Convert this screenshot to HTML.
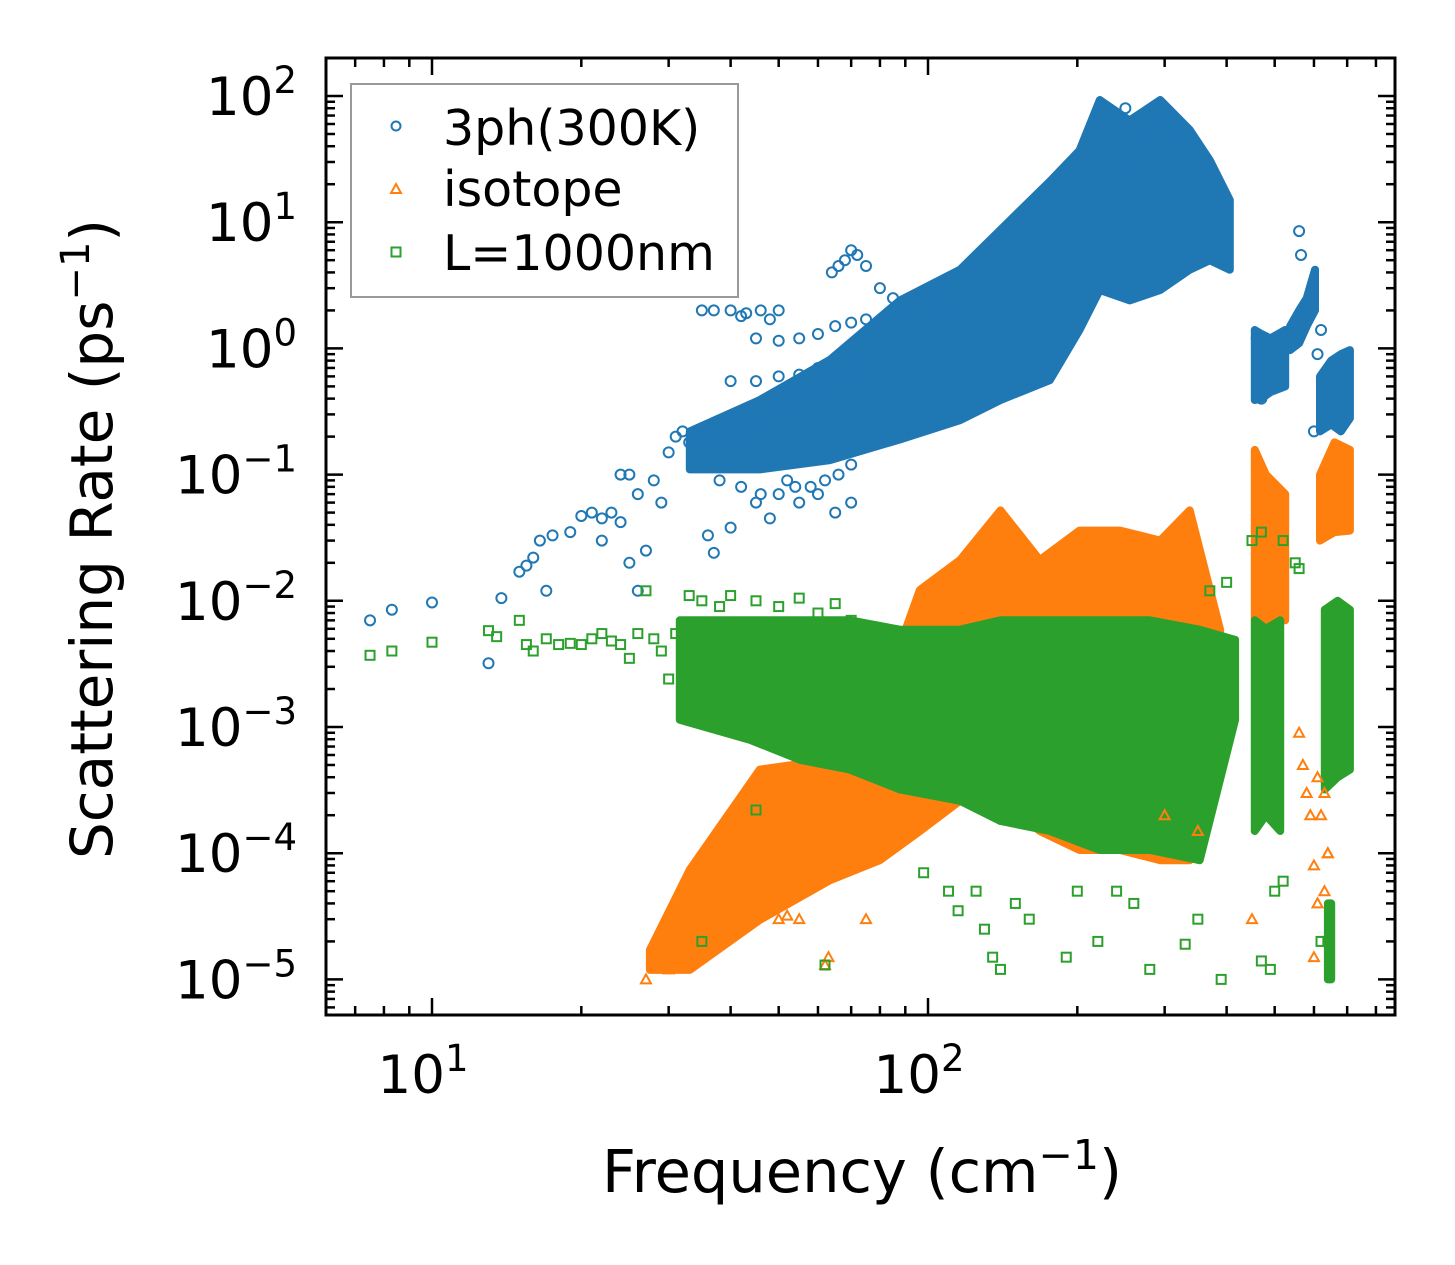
<!DOCTYPE html>
<html><head><meta charset="utf-8"><style>
html,body{margin:0;padding:0;background:#fff;}
svg{display:block;font-family:"DejaVu Sans","Liberation Sans",sans-serif;}
</style></head><body>
<svg id="chart" width="1455" height="1265" viewBox="0 0 1455 1265" xmlns="http://www.w3.org/2000/svg">
<rect width="1455" height="1265" fill="#fff"/>
<g id="clusters"></g>
<g id="points"></g>
<g id="axes"></g>
<text x="862" y="1192" font-size="59" text-anchor="middle">Frequency (cm<tspan dy="-23" font-size="41">−1</tspan><tspan dy="23">)</tspan></text>
<text transform="translate(112,539) rotate(-90)" font-size="58" text-anchor="middle">Scattering Rate (ps<tspan dy="-23" font-size="40">−1</tspan><tspan dy="23">)</tspan></text>
<g>
<rect x="351" y="84" width="387" height="213" fill="#fff" stroke="#999" stroke-width="2"/>
<circle cx="396" cy="126" r="4.5" fill="none" stroke="#1f77b4" stroke-width="2"/>
<text x="443" y="145" font-size="49">3ph(300K)</text>
<path d="M396,184 L401,193 L391,193 Z" fill="none" stroke="#ff7f0e" stroke-width="2"/>
<text x="443" y="206" font-size="49">isotope</text>
<rect x="391.5" y="247.5" width="9" height="9" fill="none" stroke="#2ca02c" stroke-width="2"/>
<text x="443" y="270" font-size="49">L=1000nm</text>
</g>
</svg>
<script>
// ---- data (frequency in cm^-1, rate in ps^-1) ----
const blueBandFreq=[33.1,45.8,63.4,87.8,116,140,176,202,222,255,294,337,370,406];
const blueBandLo=[0.11,0.11,0.13,0.19,0.27,0.39,0.56,1.4,2.9,2.4,2.9,4.2,5.0,4.2];
const blueBandHi=[0.22,0.39,0.81,2.4,4.2,8.7,21,37,93,64,93,54,31,15];
const blueBand2Freq=[456,470,490,525];
const blueBand2Lo=[0.39,0.4,0.45,0.5];
const blueBand2Hi=[1.4,1.3,1.2,1.4];
const blueBand3Freq=[537,560,580,603];
const blueBand3Lo=[0.97,1.1,1.5,2.0];
const blueBand3Hi=[1.5,2.0,2.5,4.2];
const blueBand4Freq=[617,650,680,709];
const blueBand4Lo=[0.22,0.25,0.22,0.28];
const blueBand4Hi=[0.6,0.8,0.9,0.97];
const orangeBandFreq=[27.5,33.1,45.8,63.4,80,96.3,116,140,168,202,244,294,337,388];
const orangeBandLo=[0.0000119,0.0000119,0.0000296,0.000061,0.000088,0.00015,0.00026,0.00026,0.00015,0.000106,0.000106,0.000088,0.000088,0.00055];
const orangeBandHi=[0.0000171,0.000074,0.00046,0.00055,0.0016,0.0122,0.021,0.052,0.021,0.036,0.036,0.030,0.052,0.0059];
const orangeBand2Freq=[456,480,525];
const orangeBand2Lo=[0.007,0.007,0.007];
const orangeBand2Hi=[0.157,0.1,0.07];
const orangeBand3Freq=[617,660,709];
const orangeBand3Lo=[0.03,0.035,0.036];
const orangeBand3Hi=[0.1,0.18,0.157];
const greenBandFreq=[31.6,43.8,55.2,69.6,87.8,116,140,176,222,280,353,416];
const greenBandLo=[0.00114,0.00079,0.00055,0.00046,0.00032,0.00026,0.00018,0.00015,0.000106,0.000106,0.000088,0.00114];
const greenBandHi=[0.007,0.007,0.007,0.007,0.0059,0.0059,0.007,0.007,0.007,0.007,0.0059,0.0049];
const greenBand2Freq=[456,480,513];
const greenBand2Lo=[0.00015,0.0002,0.00015];
const greenBand2Hi=[0.007,0.006,0.007];
const greenBand3Freq=[631,670,709];
const greenBand3Lo=[0.00032,0.0004,0.00046];
const greenBand3Hi=[0.0085,0.01,0.0085];
const greenBand4Freq=[640,650];
const greenBand4Lo=[0.00001,0.00001];
const greenBand4Hi=[0.00004,0.00004];
const blueFreq=[7.5,8.3,10,13,13.8,15,15.5,16,16.5,17,17.5,19,20,21,22,22,23,24,25,24,25,26,26,27,28,29,30,31,32,33,35,36,37,38,40,42,45,48,52,55,60,65,70,35,37,40,43,46,50,42,48,45,50,55,60,65,70,75,40,45,50,55,60,65,64,66,68,70,72,75,80,85,90,95,100,105,110,250,310,275,330,300,255,560,565,620,610,460,470,600,36,40,44,48,52,56,60,64,68,72,38,42,46,50,54,58,62,66,70];
const blueRate=[0.007,0.0085,0.0097,0.0032,0.0105,0.017,0.019,0.022,0.03,0.012,0.033,0.035,0.047,0.05,0.045,0.03,0.05,0.1,0.1,0.042,0.02,0.012,0.07,0.025,0.09,0.06,0.15,0.2,0.22,0.18,0.2,0.033,0.024,0.12,0.038,0.2,0.06,0.045,0.09,0.06,0.07,0.05,0.06,2,2,2,1.9,2,2,1.8,1.7,1.2,1.15,1.2,1.3,1.5,1.6,1.7,0.55,0.55,0.6,0.62,0.7,0.75,4,4.5,5,6,5.5,4.5,3,2.5,2.2,2.5,2.8,2.2,2,80,70,40,45,60,30,8.5,5.5,1.4,0.9,1.2,0.4,0.22,0.2,0.22,0.25,0.3,0.35,0.4,0.45,0.5,0.6,0.7,0.09,0.08,0.07,0.07,0.08,0.08,0.09,0.1,0.12];
const orangeFreq=[27,30,50,52,55,62,63,75,450,560,570,580,590,600,610,620,630,640,600,610,630,640,350,300];
const orangeRate=[0.00001,0.000012,0.00003,0.000032,0.00003,0.000013,0.000015,0.00003,0.00003,0.0009,0.0005,0.0003,0.0002,0.00008,0.0004,0.0002,0.0003,0.0001,0.000015,0.00004,0.00005,0.0001,0.00015,0.0002];
const greenFreq=[7.5,8.3,10,13,13.5,15,15.5,16,17,18,19,20,21,22,23,24,25,26,27,28,29,30,31,33,35,38,40,45,50,55,60,65,70,35,45,62,98,110,115,125,130,135,140,150,160,190,200,220,240,260,280,330,350,390,470,490,640,620,500,520,400,450,470,520,550,370,560];
const greenRate=[0.0037,0.004,0.0047,0.0058,0.0052,0.007,0.0045,0.004,0.005,0.0045,0.0046,0.0045,0.005,0.0055,0.0048,0.0045,0.0035,0.0055,0.012,0.005,0.004,0.0024,0.0055,0.011,0.01,0.009,0.011,0.01,0.009,0.0105,0.008,0.0095,0.007,0.00002,0.00022,0.000013,0.00007,0.00005,0.000035,0.00005,0.000025,0.000015,0.000012,0.00004,0.00003,0.000015,0.00005,0.00002,0.00005,0.00004,0.000012,0.000019,0.00003,0.00001,0.000014,0.000012,0.00002,0.00002,0.00005,0.00006,0.014,0.03,0.035,0.03,0.02,0.012,0.018];
const xTickVals=[10,100];
const xTickLabels=["1","2"];
const yTickVals=[100,10,1,0.1,0.01,0.001,0.0001,0.00001];
const yTickLabels=["2","1","0","−1","−2","−3","−4","−5"];

// ---- axes ----
const L=326,R=1395,T=58,B=1015;
const X0=432,PXDEC=496,Y0=96,PYDEC=126.2;
const xs=f=>X0+(Math.log10(f)-1)*PXDEC;
const ys=r=>Y0+(2-Math.log10(r))*PYDEC;
const NS="http://www.w3.org/2000/svg";
function mk(tag,attrs,parent){const e=document.createElementNS(NS,tag);for(const k in attrs)e.setAttribute(k,attrs[k]);parent.appendChild(e);return e;}
const clusters=document.getElementById('clusters');
const pts=document.getElementById('points');
const axes=document.getElementById('axes');

function band(fr,lo,hi,color,name){
  let d='';
  fr.forEach((f,i)=>{d+=(i?'L':'M')+xs(f).toFixed(1)+','+ys(hi[i]).toFixed(1);});
  for(let i=fr.length-1;i>=0;i--){d+='L'+xs(fr[i]).toFixed(1)+','+ys(lo[i]).toFixed(1);}
  d+='Z';
  const p=mk('path',{d:d,fill:color,stroke:color,'stroke-width':8,'stroke-linejoin':'round'},clusters);
  
  
}
band(blueBandFreq,blueBandLo,blueBandHi,'#1f77b4','blue-dense-cluster');
band(blueBand2Freq,blueBand2Lo,blueBand2Hi,'#1f77b4','blue-cluster-2');
band(blueBand3Freq,blueBand3Lo,blueBand3Hi,'#1f77b4','blue-cluster-3');
band(blueBand4Freq,blueBand4Lo,blueBand4Hi,'#1f77b4','blue-cluster-4');
band(orangeBandFreq,orangeBandLo,orangeBandHi,'#ff7f0e','orange-dense-cluster');
band(orangeBand2Freq,orangeBand2Lo,orangeBand2Hi,'#ff7f0e','orange-cluster-2');
band(orangeBand3Freq,orangeBand3Lo,orangeBand3Hi,'#ff7f0e','orange-cluster-3');
band(greenBandFreq,greenBandLo,greenBandHi,'#2ca02c','green-dense-cluster');
band(greenBand2Freq,greenBand2Lo,greenBand2Hi,'#2ca02c','green-cluster-2');
band(greenBand3Freq,greenBand3Lo,greenBand3Hi,'#2ca02c','green-cluster-3');
band(greenBand4Freq,greenBand4Lo,greenBand4Hi,'#2ca02c','green-cluster-4');

blueFreq.forEach((f,i)=>{
  const c=mk('circle',{cx:xs(f),cy:ys(blueRate[i]),r:5,fill:'none',stroke:'#1f77b4','stroke-width':2},pts);
  
  
});
orangeFreq.forEach((f,i)=>{
  const x=xs(f),y=ys(orangeRate[i]);
  const c=mk('path',{d:`M${x},${y-5}L${x+5},${y+4}L${x-5},${y+4}Z`,fill:'none',stroke:'#ff7f0e','stroke-width':2},pts);
  
  
});
greenFreq.forEach((f,i)=>{
  const c=mk('rect',{x:xs(f)-4.5,y:ys(greenRate[i])-4.5,width:9,height:9,fill:'none',stroke:'#2ca02c','stroke-width':2},pts);
  
  
});

// frame
const fr=mk('rect',{x:L,y:T,width:R-L,height:B-T,fill:'none',stroke:'#000','stroke-width':3},axes);


for(let dec=0;dec<=2;dec++){for(let m=1;m<=9;m++){
  const v=m*Math.pow(10,dec);const x=xs(v);if(x<L||x>R)continue;
  const len=m===1?17:9;
  mk('line',{x1:x,y1:B,x2:x,y2:B-len,stroke:'#000','stroke-width':2.5},axes);
  mk('line',{x1:x,y1:T,x2:x,y2:T+len,stroke:'#000','stroke-width':2.5},axes);
}}
for(let dec=-6;dec<=2;dec++){for(let m=1;m<=9;m++){
  const v=m*Math.pow(10,dec);const y=ys(v);if(y<T||y>B)continue;
  const len=m===1?17:9;
  mk('line',{x1:L,y1:y,x2:L+len,y2:y,stroke:'#000','stroke-width':2.5},axes);
  mk('line',{x1:R,y1:y,x2:R-len,y2:y,stroke:'#000','stroke-width':2.5},axes);
}}
xTickVals.forEach((v,i)=>{
  const t=mk('text',{x:xs(v)-9,y:1093,'font-size':53,'text-anchor':'middle'},axes);
  
  
  t.innerHTML='10<tspan dy="-22" font-size="37">'+xTickLabels[i]+'</tspan>';
});
yTickVals.forEach((v,i)=>{
  const t=mk('text',{x:297,y:ys(v)+19,'font-size':53,'text-anchor':'end'},axes);
  
  
  t.innerHTML='10<tspan dy="-22" font-size="37">'+yTickLabels[i]+'</tspan>';
});
</script>
</body></html>
